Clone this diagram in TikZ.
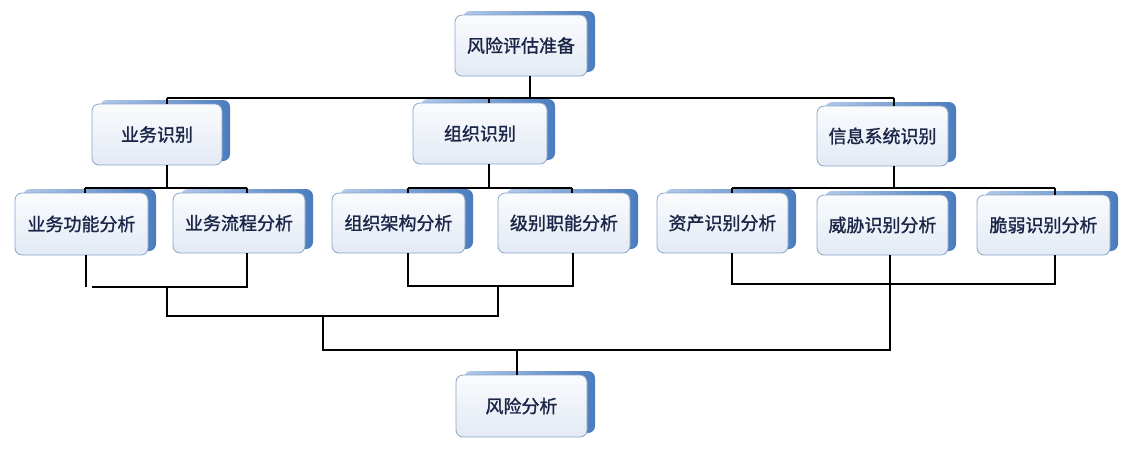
\documentclass[tikz,border=0pt]{standalone}
\usepackage{fontspec}
\newfontfamily\cjk[FakeBold=1.3]{Noto Sans CJK SC}
\usetikzlibrary{shadows}
\definecolor{boxline}{HTML}{8AA4C8}
\definecolor{boxtop}{HTML}{FAFBFD}
\definecolor{boxbot}{HTML}{E3EAF4}
\definecolor{shL}{HTML}{B3CAE9}
\definecolor{shR}{HTML}{4A7CBE}
\definecolor{txt}{HTML}{1B2548}
\tikzset{
  box/.style={rectangle, rounded corners=7pt, draw=boxline, line width=0.8pt,
    top color=boxtop, bottom color=boxbot, inner sep=0pt,
    minimum width=132pt, minimum height=61pt,
    font=\cjk\fontsize{18}{20}\selectfont, text=txt,
    general shadow={shadow xshift=8pt, shadow yshift=4pt, left color=shL, right color=shR, draw=none}},
  conn/.style={draw=black, line width=1.2pt}
}
\begin{document}
\begin{tikzpicture}[x=1pt,y=-1pt]
\useasboundingbox (0,0) rectangle (1131,451);
% nodes
\node[box] (top) at (521,45.5) {风险评估准备};
\node[box, minimum width=130pt] (ywsb) at (157,134.5) {业务识别};
\node[box, minimum width=134pt] (zzsb) at (480,133.5) {组织识别};
\node[box, minimum width=131pt, minimum height=60pt] (xxsb) at (882.5,136) {信息系统识别};
\node[box, minimum width=133pt, minimum height=62pt] (f1) at (81.5,224) {业务功能分析};
\node[box, minimum height=60pt] (f2) at (239,223) {业务流程分析};
\node[box, minimum width=133pt, minimum height=60pt] (f3) at (398.5,223) {组织架构分析};
\node[box, minimum height=60pt] (f4) at (564,223) {级别职能分析};
\node[box, minimum width=131pt, minimum height=60pt] (f5) at (722.5,223) {资产识别分析};
\node[box, minimum width=131pt, minimum height=60pt] (f6) at (882.5,225) {威胁识别分析};
\node[box, minimum width=133pt, minimum height=60pt] (f7) at (1043.5,225) {脆弱识别分析};
\node[box, minimum width=131pt, minimum height=62pt] (risk) at (521.5,406) {风险分析};
% junction coordinates
\coordinate (t0) at (530,98);
\coordinate (tL) at (167,98);
\coordinate (tM) at (489,98);
\coordinate (tR) at (894,98);
\coordinate (a0) at (167,188);
\coordinate (aL) at (85,188);
\coordinate (aR) at (247,188);
\coordinate (b0) at (489,188);
\coordinate (bL) at (408,188);
\coordinate (bR) at (572,188);
\coordinate (c0) at (894,188);
\coordinate (cL) at (732,188);
\coordinate (cR) at (1055,188);
\coordinate (d0) at (167,287);
\coordinate (dL) at (86,287);
\coordinate (dLs) at (92,287);
\coordinate (dR) at (247,287);
\coordinate (e0) at (498,286);
\coordinate (eL) at (408,286);
\coordinate (eR) at (573,286);
\coordinate (gL) at (732,284);
\coordinate (gR) at (1055,284);
\coordinate (h0) at (498,316);
\coordinate (hL) at (167,316);
\coordinate (hM) at (323,316);
\coordinate (k0) at (517,350);
\coordinate (kL) at (323,350);
\coordinate (kR) at (890,350);
% top level
\draw[conn] (top.south -| t0) -- (t0);
\draw[conn] (tL) -- (tR);
\draw[conn] (tL) -- (ywsb.north -| tL);
\draw[conn] (tM) -- (zzsb.north -| tM);
\draw[conn] (tR) -- (xxsb.north -| tR);
% second level
\draw[conn] (ywsb.south -| a0) -- (a0);
\draw[conn] (aL) -- (aR);
\draw[conn] (aL) -- (f1.north -| aL);
\draw[conn] (aR) -- (f2.north -| aR);
\draw[conn] (zzsb.south -| b0) -- (b0);
\draw[conn] (bL) -- (bR);
\draw[conn] (bL) -- (f3.north -| bL);
\draw[conn] (bR) -- (f4.north -| bR);
\draw[conn] (xxsb.south -| c0) -- (c0);
\draw[conn] (cL) -- (cR);
\draw[conn] (cL) -- (f5.north -| cL);
\draw[conn] (cR) -- (f7.north -| cR);
% bottom merging
\draw[conn] (f1.south -| dL) -- (dL);
\draw[conn] (f2.south -| dR) -- (dR) -- (dLs);
\draw[conn] (d0) -- (hL) -- (h0) -- (e0);
\draw[conn] (f3.south -| eL) -- (eL) -- (eR) -- (f4.south -| eR);
\draw[conn] (f5.south -| gL) -- (gL) -- (gR) -- (f7.south -| gR);
\draw[conn] (hM) -- (kL) -- (kR) -- (f6.south -| kR);
\draw[conn] (k0) -- (risk.north -| k0);
\end{tikzpicture}
\end{document}
